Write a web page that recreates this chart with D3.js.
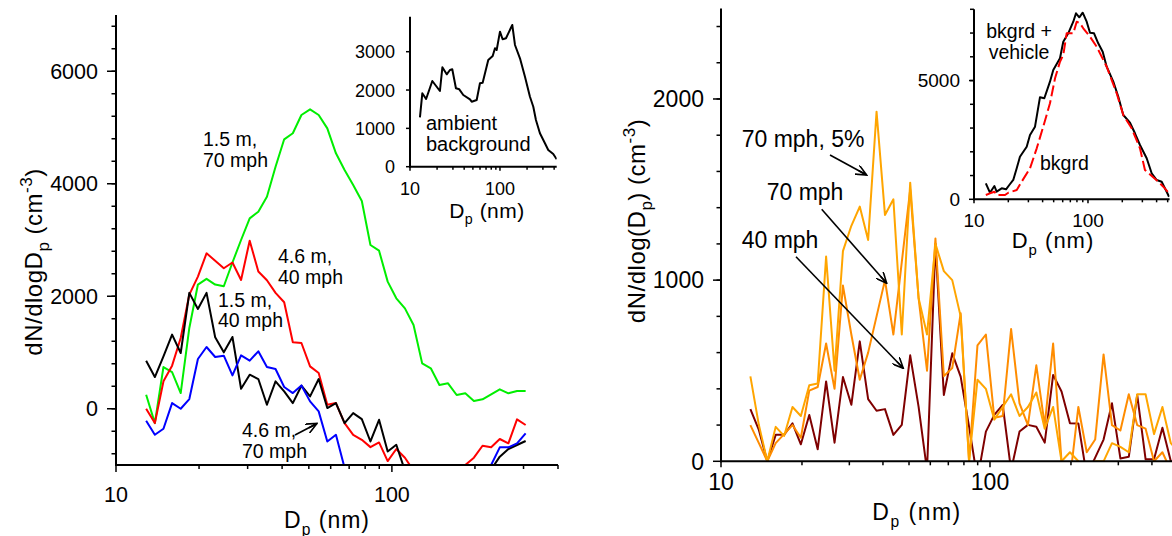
<!DOCTYPE html>
<html><head><meta charset="utf-8">
<script src="https://cdn.jsdelivr.net/npm/d3@7"></script>
<style>
body{margin:0;background:#fff;}
svg text{font-family:"Liberation Sans",Arial,sans-serif;fill:#000;}
</style></head><body>
<svg id="fig" width="1172" height="536"></svg>
<script>
// SMPS bin midpoint diameters (nm), 32 channels per decade
const diameters = [12.86,13.83,14.86,15.97,17.16,18.44,19.81,21.29,22.88,24.59,26.43,28.40,30.52,32.80,35.24,37.87,40.70,43.74,47.00,50.51,54.28,58.33,62.69,67.37,72.39,77.80,83.60,89.84,96.55,103.75,111.49,119.81,128.75,138.36,148.68,159.77,171.69,184.50,198.27,213.06,228.96,246.04,264.40,284.13,305.33,328.11,352.59,378.90,407.17,437.55,470.20,505.28];

// Left panel: vehicle-minus-background size distributions (dN/dlogDp, cm^-3)
const green_1p5m_70mph = [249,-255,742,653,279,1436,2208,2309,2208,2178,2600,3000,3385,3503,3770,4303,4790,4897,5222,5323,5222,4985,4541,4244,3978,3693,2911,2810,2260,1963,1785,1489,807,719,422,452,244,274,138,168,257,346,274,316,316];
const red_4p6m_40mph = [0,-255,487,766,1258,2030,2350,2763,2630,2497,2600,2290,2988,2440,2285,2059,1893,1181,1169,754,635,71,101,-255,-463,-552,-682,-599,-930,-716,-870,-1100,-1250,-1300,-1300,-1250,-1200,-1000,-870,-658,-686,-538,-614,-188,-289];
const black_1p5m_40mph = [855,564,932,1318,991,2060,1775,2060,1270,1003,1276,356,605,528,71,487,309,101,410,220,528,12,101,-255,-77,-184,-582,-196,-760,-641,-1100,-1300,-1400,-1400,-1400,-1350,-1300,-1250,-1200,-1150,-1080,-852,-716,-644,-573];
const blue_4p6m_70mph = [-214,-463,-356,101,0,172,884,1098,920,944,593,950,855,1021,742,706,386,279,415,131,-47,-582,-463,-1050,-1200,-1250,-1300,-1300,-1300,-1300,-1300,-1300,-1300,-1300,-1300,-1300,-1250,-1200,-1150,-1100,-1000,-686,-686,-614,-437];

// Left inset: ambient background
const ambientD = [12.9,13.7,15.1,17.7,21.5,22.9,25.6,27.8,29.5,32.4,35.3,39.1,46.4,48.5,55.1,59.9,64.2,74.1,83.0,88.0,91.9,100,107,116.6,123.7,137,146.8,166.8,189.6,215.4,234.6,251,278,316,344,391,427];
const ambientN = [1289,1915,1766,2236,1975,2593,2411,2523,2541,2045,2019,1871,1758,1696,1740,2176,2192,2784,2888,3089,3045,3522,3324,3350,3480,3697,3175,2828,2348,1826,1565,1218,871,610,436,331,193];

// Right panel: 40 mph, 70 mph, 70 mph on 5% grade
const n_40mph = [288,173,0,146,146,210,94,256,66,441,103,465,312,662,343,279,288,146,201,585,300,-50,1200,366,596,467,191,-100,164,256,311,-50,164,201,191,103,477,385,210,209,-80,20,120,320,16,25,366,11,11,185,0,-50];
const n_70mph = [200,100,0,100,150,200,130,390,410,650,400,970,700,450,600,800,1000,700,1100,1500,900,500,1230,470,515,817,0,640,700,240,250,730,320,200,530,200,650,0,-100,300,50,120,590,200,170,370,200,180,0,50,-50,-50];
const n_70mph_5pct = [469,200,0,190,140,300,250,420,430,1130,500,1160,1300,1406,1222,1930,1360,1446,700,1538,900,700,1200,1050,1000,800,0,450,400,230,300,370,250,300,380,180,300,0,50,0,-50,0,0,100,80,50,370,370,150,300,100,50];

// Right inset: background and background + vehicle
const vehD = [12.7,13.8,15.1,15.8,17.5,19.1,20.4,22.1,23.7,25.3,29.0,31.0,34.3,37.9,41.4,46.4,49.6,56.8,60.7,67.1,74.3,78.5,83.9,89.9,97.4,104.2,113,123,134.6,145.9,166.7,184.5,204,233.6,258.3,285.8,327.3,362,400.6,443,490,514];
const vehN = [674,278,560,320,463,421,602,813,1305,1794,2215,2707,3057,4295,4253,4952,5444,5937,6636,6989,7478,7831,7663,7857,7478,7015,6989,6568,6215,5583,4952,4320,3549,3225,2779,2286,1726,1095,813,741,320,109];
const bkgD = [12.7,13.8,15.1,15.8,18.7,20.0,23.7,26.2,31.0,35.5,40.5,46.4,51.4,56.8,60.7,65.0,74.3,79.6,85.1,90.9,104.2,119.2,145.9,178.5,204,241.7,285.8,316,414,458,514];
const bkgN = [181,252,320,181,181,278,392,741,1305,2147,3057,4042,5095,5794,6076,6989,6989,7478,7410,7200,6846,6425,5583,4463,3549,2989,2147,1234,741,531,252];

const svg = d3.select("#fig");

// open arrowhead marker
svg.append("defs").append("marker")
  .attr("id","arr").attr("viewBox","0 0 12 10").attr("refX",11).attr("refY",5)
  .attr("markerWidth",12).attr("markerHeight",10).attr("markerUnits","userSpaceOnUse")
  .attr("orient","auto")
  .append("path").attr("d","M0,0 L11,5 L0,10 M2,5 L11,5").attr("fill","none")
  .attr("stroke","#000").attr("stroke-width",1.6);

let clipN = 0;
function panel(o){
  const g = svg.append("g");
  const x = d3.scaleLog().domain(o.xd).range(o.xr);
  const y = d3.scaleLinear().domain(o.yd).range(o.yr);
  const id = "clip" + (clipN++);
  svg.select("defs").append("clipPath").attr("id", id).append("rect")
    .attr("x", o.xr[0]).attr("y", o.yr[1]).attr("width", o.xr[1]-o.xr[0]).attr("height", o.yr[0]-o.yr[1]);
  const lg = g.append("g").attr("clip-path", `url(#${id})`);
  o.series.forEach(s => {
    const pts = s.xs.map((d,i)=>[d, s.ys[i]]);
    lg.append("path").datum(pts)
      .attr("d", d3.line().x(p=>x(p[0])).y(p=>y(p[1])))
      .attr("fill","none").attr("stroke", s.color).attr("stroke-width", s.w || 2)
      .attr("stroke-dasharray", s.dash || null).attr("stroke-linejoin","round");
  });
  // axis lines
  const x0 = o.xr[0], y0 = o.yr[0];
  g.append("line").attr("x1",x0).attr("x2",x0).attr("y1",o.yr[0]+1).attr("y2",o.yr[1]).attr("stroke","#000").attr("stroke-width",o.aw||2);
  g.append("line").attr("x1",x0-1).attr("x2",o.xr[1]).attr("y1",y0).attr("y2",y0).attr("stroke","#000").attr("stroke-width",o.aw||2);
  // y ticks
  o.yMinor.forEach(v => g.append("line").attr("x1",x0).attr("x2",x0-o.minLen).attr("y1",y(v)).attr("y2",y(v)).attr("stroke","#000").attr("stroke-width",1.5));
  o.yMajor.forEach(v => g.append("line").attr("x1",x0).attr("x2",x0-o.majLen).attr("y1",y(v)).attr("y2",y(v)).attr("stroke","#000").attr("stroke-width",1.5));
  o.yLabels.forEach(v => g.append("text").attr("x",x0-o.majLen-o.ypad).attr("y",y(v)).attr("dy","0.36em")
    .attr("text-anchor","end").style("font-size",o.fs+"px").text(v));
  // x ticks
  o.xMinor.forEach(v => g.append("line").attr("x1",x(v)).attr("x2",x(v)).attr("y1",y0).attr("y2",y0+o.xMinLen).attr("stroke","#000").attr("stroke-width",1.5));
  o.xMajor.forEach(v => g.append("line").attr("x1",x(v)).attr("x2",x(v)).attr("y1",y0).attr("y2",y0+o.xMajLen).attr("stroke","#000").attr("stroke-width",1.5));
  o.xMajor.forEach(v => g.append("text").attr("x",x(v)).attr("y",o.xLabY)
    .attr("text-anchor","middle").style("font-size",o.fs+"px").text(v));
  return {x, y, g};
}

// axis title "Dp (nm)" with subscript
function dpTitle(cx, by, fs, ls){
  const t = svg.append("text").attr("x",cx).attr("y",by).attr("text-anchor","middle")
    .style("font-size",fs+"px").style("letter-spacing",(ls||0)+"px");
  t.append("tspan").text("D");
  t.append("tspan").attr("dy",fs*0.3).style("font-size",(fs*0.68)+"px").text("p");
  t.append("tspan").attr("dy",-fs*0.3).text(" (nm)");
}
function label(lines, x, y0, fs, lh, anchor){
  const step = lh || fs * 1.05;
  lines.forEach((s,i)=>svg.append("text").attr("x",x).attr("y",y0+i*step)
    .attr("text-anchor",anchor||"start").style("font-size",fs+"px").text(s));
}
function arrow(x1,y1,x2,y2){
  svg.append("line").attr("x1",x1).attr("y1",y1).attr("x2",x2).attr("y2",y2)
    .attr("stroke","#000").attr("stroke-width",1.6).attr("marker-end","url(#arr)");
}
const range = (a,b,s)=>d3.range(a,b+s/2,s);
const logMinor = [20,30,40,50,60,70,80,90,200,300,400,500];

// ---------- left main panel ----------
const leftD = diameters.slice(0, 45);
panel({
  xd:[10,400], xr:[116,558], yd:[-1000,7000], yr:[465,15],
  series:[
    {xs:leftD, ys:green_1p5m_70mph, color:"#00ee00"},
    {xs:leftD, ys:red_4p6m_40mph, color:"#ff0000"},
    {xs:leftD, ys:black_1p5m_40mph, color:"#000000"},
    {xs:leftD, ys:blue_4p6m_70mph, color:"#0000ff"}
  ],
  yMajor:[0,2000,4000,6000], yMinor:range(-800,6800,400), yLabels:[0,2000,4000,6000],
  majLen:9, minLen:4.5, ypad:9, fs:21.5,
  xMajor:[10,100], xMinor:logMinor.filter(v=>v<=400), xMajLen:7, xMinLen:4, xLabY:502
});
dpTitle(327, 528, 23, 1);
{
  const t = svg.append("text").attr("transform","translate(42,262) rotate(-90)")
    .attr("text-anchor","middle").style("font-size","24px").style("letter-spacing","0.5px");
  t.append("tspan").text("dN/dlogD");
  t.append("tspan").attr("dy",7).style("font-size","17px").text("p");
  t.append("tspan").attr("dy",-7).text(" (cm");
  t.append("tspan").attr("dy",-10).style("font-size","17px").text("-3");
  t.append("tspan").attr("dy",10).text(")");
}
label(["1.5 m,","70 mph"], 203, 146, 19.5, 21);
label(["4.6 m,","40 mph"], 278, 263, 19.5, 20.5);
label(["1.5 m,","40 mph"], 218, 306.5, 19.5, 20.5);
label(["4.6 m,","70 mph"], 242, 437, 19.5, 21);
arrow(295,435,317,423.5);

// ---------- left inset ----------
panel({
  xd:[10,427], xr:[410,556.7], yd:[0,3913], yr:[166.7,16.7],
  series:[{xs:ambientD, ys:ambientN, color:"#000"}],
  yMajor:[0,1000,2000,3000], yMinor:[], yLabels:[0,1000,2000,3000],
  majLen:4, minLen:0, ypad:11, fs:18, aw:2,
  xMajor:[10,100], xMinor:[20,30,40,50,60,70,80,90,200,300,400], xMajLen:4, xMinLen:3, xLabY:195
});
dpTitle(487, 218, 21, 0.5);
label(["ambient","background"], 426, 130, 20, 20.5);

// ---------- right main panel ----------
const rightD = diameters;
panel({
  xd:[10,500], xr:[721,1178], yd:[0,2500], yr:[461.3,8.4],
  series:[
    {xs:rightD, ys:n_40mph, color:"#7f0000"},
    {xs:rightD, ys:n_70mph, color:"#ff8c00"},
    {xs:rightD, ys:n_70mph_5pct, color:"#ffa500"}
  ],
  yMajor:[0,1000,2000], yMinor:range(200,2400,200), yLabels:[0,1000,2000],
  majLen:8, minLen:4.5, ypad:9, fs:23,
  xMajor:[10,100], xMinor:logMinor, xMajLen:6, xMinLen:4, xLabY:490
});
dpTitle(917, 520, 23, 1.5);
{
  const t = svg.append("text").attr("transform","translate(645,221) rotate(-90)")
    .attr("text-anchor","middle").style("font-size","24px").style("letter-spacing","0.5px");
  t.append("tspan").text("dN/dlog(D");
  t.append("tspan").attr("dy",7).style("font-size","17px").text("p");
  t.append("tspan").attr("dy",-7).text(") (cm");
  t.append("tspan").attr("dy",-10).style("font-size","17px").text("-3");
  t.append("tspan").attr("dy",10).text(")");
}
label(["70 mph, 5%"], 741.7, 146.7, 23);
label(["70 mph"], 766.7, 200, 23);
label(["40 mph"], 741.7, 248, 23);
arrow(830,155,866.7,175);
arrow(821.7,209.3,886.7,283.3);
arrow(796,256.7,903.3,368.3);

// ---------- right inset ----------
panel({
  xd:[10,520], xr:[974,1169.6], yd:[0,8000], yr:[199.3,9.3],
  series:[
    {xs:vehD, ys:vehN, color:"#000"},
    {xs:bkgD, ys:bkgN, color:"#ff0000", dash:"11,4"}
  ],
  yMajor:[0,5000], yMinor:range(1000,8000,1000), yLabels:[0,5000],
  majLen:5, minLen:4, ypad:9, fs:19,
  xMajor:[10,100], xMinor:logMinor, xMajLen:4, xMinLen:3, xLabY:226.7
});
dpTitle(1053, 248, 22, 1);
label(["bkgrd +","vehicle"], 1019, 38, 19.5, 20.5, "middle");
label(["bkgrd"], 1040, 170, 19.5);
</script>
</body></html>
